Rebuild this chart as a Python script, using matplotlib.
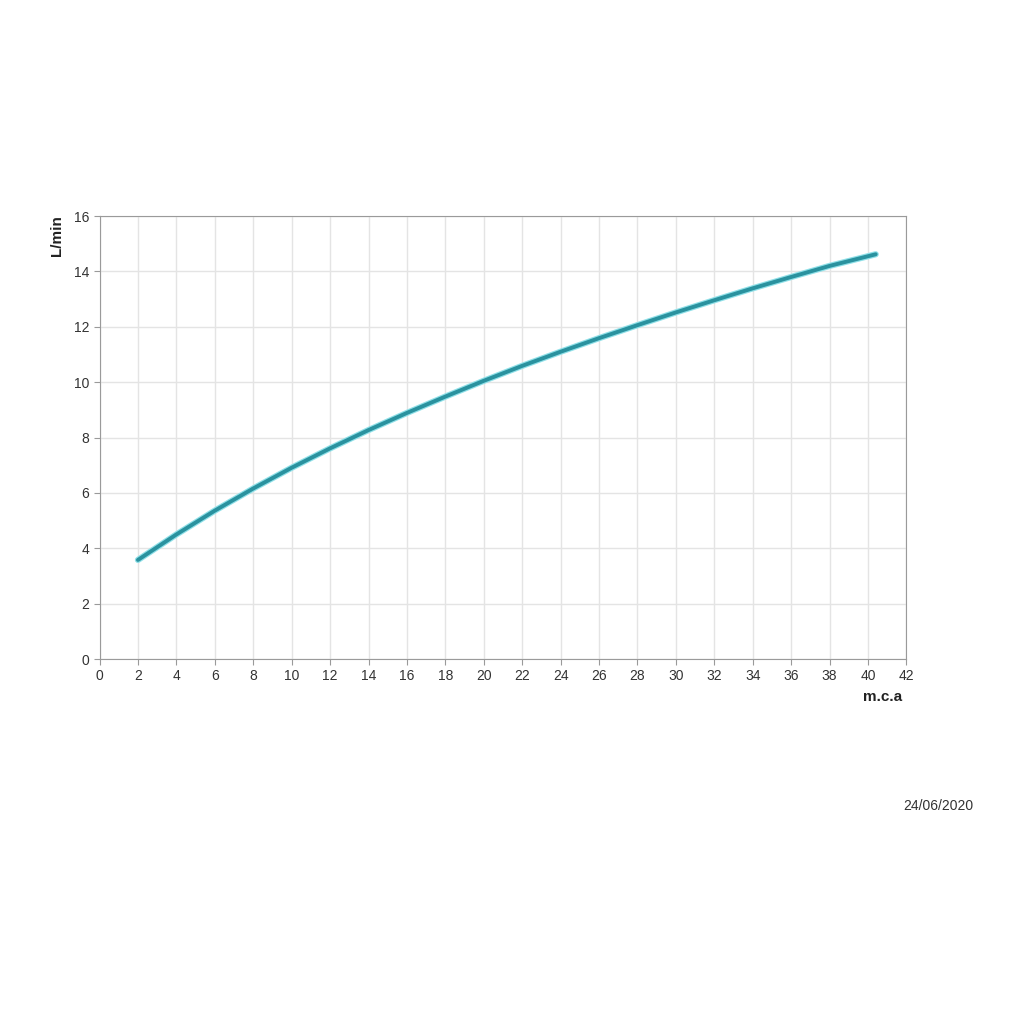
import matplotlib
matplotlib.use('Agg')
import matplotlib.pyplot as plt

matplotlib.rcParams['font.family'] = ['Liberation Sans', 'DejaVu Sans']
matplotlib.rcParams['font.size'] = 10

# pressure (m.c.a) vs flow (L/min)
pressure = [2, 4, 6, 8, 10, 12, 14, 16, 18, 20, 22, 24, 26, 28, 30, 32, 34, 36, 38, 40.4]
flow = [3.58, 4.50, 5.36, 6.16, 6.91, 7.61, 8.27, 8.89, 9.48, 10.05, 10.59,
        11.10, 11.59, 12.06, 12.52, 12.96, 13.39, 13.80, 14.20, 14.62]
x_ticks = list(range(0, 43, 2))
y_ticks = list(range(0, 17, 2))

fig = plt.figure(figsize=(10.24, 10.24), dpi=100)
ax = fig.add_axes([0.0972, 0.3564, 0.788, 0.4326])

# soft cyan halo under the line, like the original
ax.plot(pressure, flow, color='#8fe0e8', linewidth=4.5, solid_capstyle='round', zorder=2)
ax.plot(pressure, flow, color='#2a929f', linewidth=2.8, solid_capstyle='round', zorder=3)

ax.set_xlim(0, 42)
ax.set_ylim(0, 16)
ax.set_xticks(x_ticks)
ax.set_yticks(y_ticks)
ax.grid(True, color='#e4e4e4', linewidth=1)
for s in ax.spines.values():
    s.set_color('#9a9a9a')
ax.tick_params(colors='#9a9a9a', labelcolor='#333333', length=4, labelsize=10)

fig.text(0.056, 0.77, 'L/min', rotation=90, fontweight='bold', fontsize=11,
         ha='center', va='center', color='#222222')
fig.text(0.862, 0.319, 'm.c.a', fontweight='bold', fontsize=11,
         ha='center', va='center', color='#222222')
fig.text(0.916, 0.213, '24/06/2020', fontsize=10,
         ha='center', va='center', color='#333333')

fig.savefig('out.png', dpi=100, facecolor='white')
